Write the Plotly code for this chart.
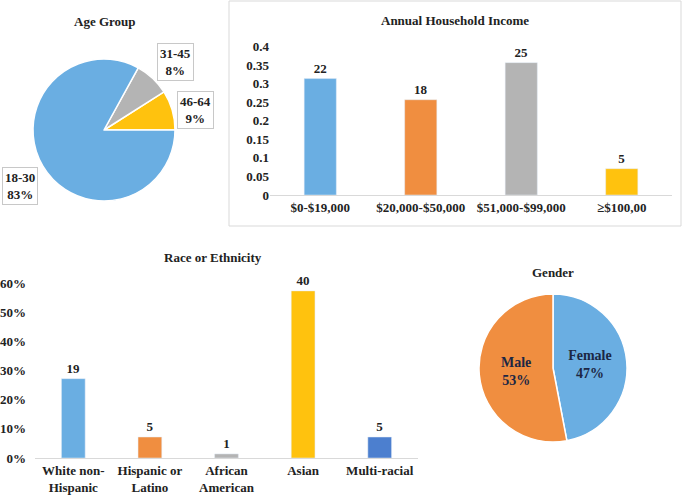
import plotly.graph_objects as go

# ---------------- data ----------------
age_labels = ["46-64", "31-45", "18-30"]
age_values = [9, 8, 83]
age_colors = ["#FFC20E", "#B4B4B4", "#6AAEE2"]

income_cats = ["$0-$19,000", "$20,000-$50,000", "$51,000-$99,000", "≥$100,00"]
income_share = [0.314, 0.257, 0.357, 0.071]
income_counts = ["22", "18", "25", "5"]
income_colors = ["#6AAEE2", "#F08E40", "#B4B4B4", "#FFC20E"]
income_tickvals = [0, 0.05, 0.1, 0.15, 0.2, 0.25, 0.3, 0.35, 0.4]
income_ticktext = ["0", "0.05", "0.1", "0.15", "0.2", "0.25", "0.3", "0.35", "0.4"]

race_cats = ["White non-<br>Hispanic", "Hispanic or<br>Latino", "African<br>American", "Asian", "Multi-racial"]
race_share = [0.272, 0.072, 0.014, 0.573, 0.072]
race_counts = ["19", "5", "1", "40", "5"]
race_colors = ["#6AAEE2", "#F08E40", "#B4B4B4", "#FFC20E", "#4C7FCF"]

gender_labels = ["Female", "Male"]
gender_values = [47, 53]
gender_colors = ["#6AAEE2", "#F08E40"]

FONT = "Liberation Serif"
W, H = 688, 495


def px(x):
    return x / W


def py(y):
    return 1 - y / H


fig = go.Figure()

# Age pie
fig.add_trace(go.Pie(
    labels=age_labels, values=age_values, sort=False,
    direction="counterclockwise", rotation=57.6,
    marker=dict(colors=age_colors, line=dict(color="white", width=1.5)),
    textinfo="none", hoverinfo="label+percent",
    domain=dict(x=[px(33), px(175)], y=[py(201), py(59)]),
    showlegend=False,
))

# Gender pie
fig.add_trace(go.Pie(
    labels=gender_labels, values=gender_values, sort=False,
    direction="clockwise", rotation=0,
    marker=dict(colors=gender_colors, line=dict(color="white", width=1.5)),
    textinfo="label+percent", texttemplate="<b>%{label}<br>%{percent:.0%}</b>",
    textposition="inside", insidetextorientation="horizontal",
    textfont=dict(family=FONT, size=14, color="#1c2744"),
    domain=dict(x=[px(479), px(627)], y=[py(442), py(294)]),
    showlegend=False,
))

# Income bars
fig.add_trace(go.Bar(
    x=income_cats, y=income_share, text=income_counts, textposition="outside",
    textfont=dict(family=FONT, size=13, color="#222", weight="bold"),
    marker=dict(color=income_colors), width=0.32, cliponaxis=False,
    xaxis="x", yaxis="y", showlegend=False,
))

# Race bars
fig.add_trace(go.Bar(
    x=race_cats, y=race_share, text=race_counts, textposition="outside",
    textfont=dict(family=FONT, size=13, color="#222", weight="bold"),
    marker=dict(color=race_colors), width=0.31, cliponaxis=False,
    xaxis="x2", yaxis="y2", showlegend=False,
))

tick_font = dict(family=FONT, size=13, color="#222", weight="bold")

fig.update_layout(
    width=W, height=H,
    margin=dict(l=0, r=0, t=0, b=0, autoexpand=False),
    paper_bgcolor="white", plot_bgcolor="white",
    font=dict(family=FONT, color="#222"),
    xaxis=dict(domain=[px(270), px(672)], anchor="y", showgrid=False, automargin=False,
               showline=True, linecolor="#d9d9d9", linewidth=1, ticks="",
               tickfont=tick_font, fixedrange=True),
    yaxis=dict(domain=[py(195), py(46.7)], anchor="x", range=[0, 0.4], automargin=False,
               tickvals=income_tickvals, ticktext=income_ticktext,
               showgrid=False, zeroline=False, showline=False,
               tickfont=tick_font, ticks="", fixedrange=True),
    xaxis2=dict(domain=[px(35), px(418)], anchor="y2", showgrid=False, automargin=False,
                showline=True, linecolor="#d9d9d9", linewidth=1, ticks="",
                tickfont=tick_font, fixedrange=True),
    yaxis2=dict(domain=[py(458), py(283)], anchor="x2", range=[0, 0.6], automargin=False,
                dtick=0.1, tickformat=".0%", showgrid=False, zeroline=False,
                showline=False, tickfont=tick_font, ticks="", ticklabelstandoff=8,
                fixedrange=True),
    bargap=0.68,
)

# income chart frame
fig.add_shape(type="rect", xref="paper", yref="paper",
              x0=px(229), x1=px(681), y0=py(226), y1=py(1),
              line=dict(color="#d9d9d9", width=1), fillcolor="rgba(0,0,0,0)")

title_font = dict(family=FONT, size=13, color="#222", weight="bold")
titles = [("Age Group", 105, 22), ("Annual Household Income", 455, 20),
          ("Race or Ethnicity", 213, 257), ("Gender", 553, 272)]
for txt, x, y in titles:
    fig.add_annotation(text=txt, x=px(x), y=py(y), xref="paper", yref="paper",
                       showarrow=False, font=title_font, xanchor="center", yanchor="middle")

# Age pie boxed labels
age_label_pos = {"46-64": (195, 110), "31-45": (175, 62), "18-30": (20, 186)}
for lab, val in zip(age_labels, age_values):
    x, y = age_label_pos[lab]
    fig.add_annotation(text=f"{lab}<br>{val}%", x=px(x), y=py(y), xref="paper", yref="paper",
                       showarrow=False, font=dict(family=FONT, size=13, color="#222", weight="bold"),
                       bordercolor="#c8c8c8", borderwidth=1, borderpad=2, bgcolor="white",
                       xanchor="center", yanchor="middle")

fig.write_html("out.html", config={"displayModeBar": False},
               post_script="document.body.style.margin='0';document.body.style.padding='0';")
